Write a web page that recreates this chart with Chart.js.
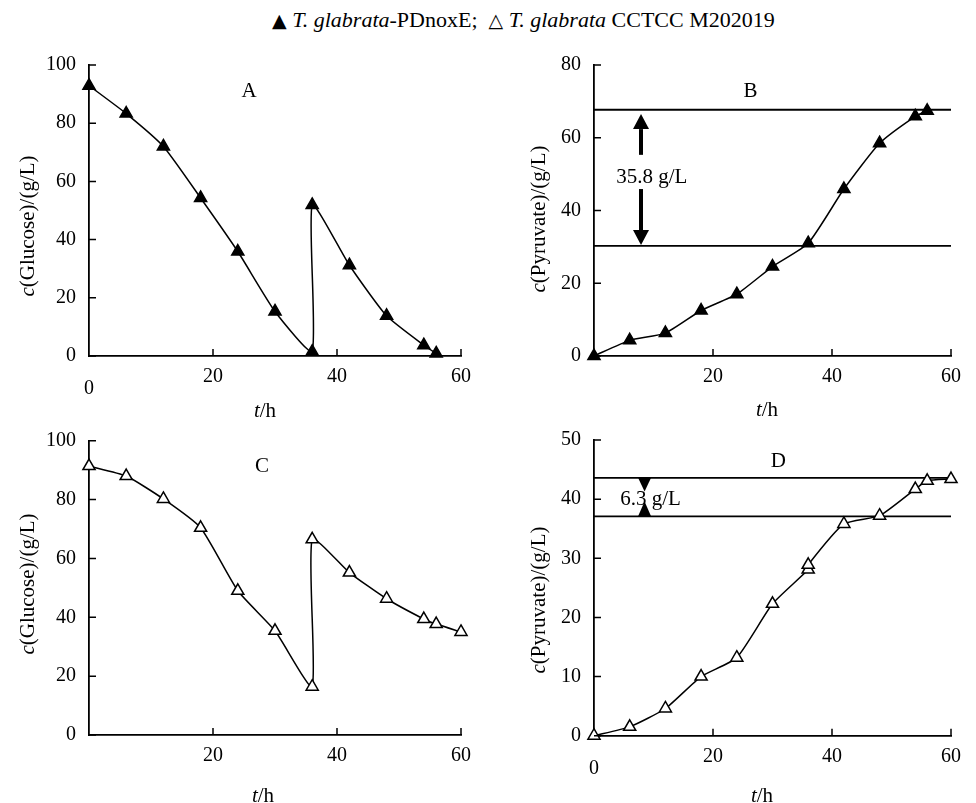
<!DOCTYPE html>
<html>
<head>
<meta charset="utf-8">
<script src="https://cdn.jsdelivr.net/npm/chart.js@4"></script>
<style>
  body { margin: 0; background: #fff; }
  #page { position: relative; width: 976px; height: 803px; font-family: "Liberation Serif", "Times New Roman", serif; color: #000; }
  .panel { position: absolute; }
  .txt { position: absolute; white-space: nowrap; font-size: 21px; line-height: 1; }
  .ytitle { transform: translate(-50%, -50%) rotate(-90deg); }
  .xtitle { transform: translate(-50%, -50%); }
  #legend { left: 272px; top: 20px; transform: translateY(-50%); font-size: 22px; }
  .sym { font-family: "DejaVu Sans", sans-serif; font-size: 19px; }
</style>
</head>
<body>
<div id="page">
  <div id="legend" class="txt"><span class="sym">▲</span> <i>T. glabrata</i>-PDnoxE;&nbsp; <span class="sym">△</span> <i>T. glabrata</i> CCTCC M202019</div>

  <div class="panel" style="left:0;top:40px;width:490px;height:360px"><canvas id="chartA" width="490" height="360"></canvas></div>
  <div class="panel" style="left:490px;top:40px;width:486px;height:360px"><canvas id="chartB" width="486" height="360"></canvas></div>
  <div class="panel" style="left:0;top:400px;width:490px;height:403px"><canvas id="chartC" width="490" height="403"></canvas></div>
  <div class="panel" style="left:490px;top:400px;width:486px;height:403px"><canvas id="chartD" width="486" height="403"></canvas></div>

  <div class="txt ytitle" style="left:27px;top:226px"><i>c</i>(Glucose)/(g/L)</div>
  <div class="txt ytitle" style="left:538px;top:219px"><i>c</i>(Pyruvate)/(g/L)</div>
  <div class="txt ytitle" style="left:27px;top:584px"><i>c</i>(Glucose)/(g/L)</div>
  <div class="txt ytitle" style="left:538px;top:600px"><i>c</i>(Pyruvate)/(g/L)</div>

  <div class="txt xtitle" style="left:265px;top:410px"><i>t</i>/h</div>
  <div class="txt xtitle" style="left:767px;top:409px"><i>t</i>/h</div>
  <div class="txt xtitle" style="left:263px;top:795px"><i>t</i>/h</div>
  <div class="txt xtitle" style="left:762px;top:795px"><i>t</i>/h</div>
</div>

<script>
// sampling times (h) and concentrations (g/L)
const hoursA    = [0, 6, 12, 18, 24, 30, 36, 36, 42, 48, 54, 56];
const glucoseA  = [92.9, 83.3, 72.0, 54.3, 35.9, 15.3, 1.5, 51.9, 31.2, 13.8, 3.7, 0.9];

const hoursB    = [0, 6, 12, 18, 24, 30, 36, 42, 48, 54, 56];
const pyruvateB = [0, 4.3, 6.3, 12.5, 17.0, 24.6, 31.0, 45.9, 58.5, 65.9, 67.4];

const hoursC    = [0, 6, 12, 18, 24, 30, 36, 36, 42, 48, 54, 56, 60];
const glucoseC  = [91.4, 88.0, 80.2, 70.4, 49.0, 35.4, 16.4, 66.5, 55.2, 46.3, 39.4, 37.7, 35.0];

const hoursD    = [0, 6, 12, 18, 24, 30, 36, 36, 42, 48, 54, 56, 60];
const pyruvateD = [0, 1.5, 4.6, 10.0, 13.2, 22.3, 28.1, 28.9, 35.8, 37.2, 41.7, 43.1, 43.4];

// horizontal reference levels (g/L)
const levelsB = [67.7, 30.3];
const levelsD = [43.6, 37.1];

// arrows as [t, tail, tip] in data units
const arrowsB = [[7.9, 55.3, 66.5], [7.9, 45.9, 30.5]];
const arrowsD = [[8.5, 43.6, 41.3], [8.5, 37.1, 39.6]];

// notes as [text, t, c]
const notesB = [['35.8 g/L', 9.7, 49.2]];
const notesD = [['6.3 g/L', 9.5, 39.9]];

const xTicks = [0, 20, 40, 60];

const serif = '"Liberation Serif", "Times New Roman", serif';

const panelDecor = {
  id: 'panelDecor',
  afterDraw(chart, args, opts) {
    const { ctx, chartArea: area, scales: { x, y } } = chart;
    ctx.save();
    ctx.strokeStyle = '#000';
    ctx.fillStyle = '#000';
    ctx.lineWidth = 1.5;

    // inward tick marks
    ctx.beginPath();
    y.ticks.forEach(t => {
      const py = y.getPixelForValue(t.value);
      ctx.moveTo(area.left, py);
      ctx.lineTo(area.left + 7, py);
    });
    x.ticks.forEach(t => {
      if (t.value === 0) return;
      const px = x.getPixelForValue(t.value);
      ctx.moveTo(px, area.bottom);
      ctx.lineTo(px, area.bottom - 7);
    });
    ctx.stroke();

    // arrows
    (opts.arrows || []).forEach(([t, tail, tip]) => {
      const px = x.getPixelForValue(t);
      const y0 = y.getPixelForValue(tail);
      const y1 = y.getPixelForValue(tip);
      const dir = Math.sign(y1 - y0);
      const head = Math.min(15, Math.abs(y1 - y0));
      const half = head < 15 ? 6.5 : 8;
      const base = y1 - dir * head;
      if (Math.abs(base - y0) > 0.5) {
        ctx.lineWidth = 4;
        ctx.beginPath();
        ctx.moveTo(px, y0);
        ctx.lineTo(px, base);
        ctx.stroke();
      }
      ctx.beginPath();
      ctx.moveTo(px, y1);
      ctx.lineTo(px - half, base);
      ctx.lineTo(px + half, base);
      ctx.closePath();
      ctx.fill();
    });

    ctx.font = '21px ' + serif;
    ctx.textAlign = 'center';
    ctx.textBaseline = 'middle';
    (opts.notes || []).forEach(([text, t, c]) => {
      ctx.fillText(text, x.getPixelForValue(t), y.getPixelForValue(c));
    });
    if (opts.letter) {
      ctx.fillText(opts.letter[0], x.getPixelForValue(opts.letter[1]), y.getPixelForValue(opts.letter[2]));
    }
    ctx.restore();
  }
};

function makePanel(id, cfg) {
  const datasets = [{
    data: cfg.hours.map((h, i) => ({ x: h, y: cfg.values[i] })),
    borderColor: '#000',
    borderWidth: 1.5,
    tension: 0.18,
    clip: false,
    pointStyle: 'triangle',
    pointRadius: 7,
    pointHoverRadius: 7,
    pointBorderWidth: 1.5,
    pointBorderColor: '#000',
    pointBackgroundColor: cfg.filled ? '#000' : '#fff',
    order: 0,
  }];
  (cfg.levels || []).forEach(v => {
    datasets.push({
      data: [{ x: 0, y: v }, { x: 60, y: v }],
      borderColor: '#000',
      borderWidth: 1.8,
      pointRadius: 0,
      tension: 0,
      clip: false,
      order: 1,
    });
  });

  new Chart(document.getElementById(id), {
    type: 'line',
    data: { datasets },
    options: {
      responsive: false,
      animation: false,
      events: [],
      layout: { padding: { top: cfg.top, right: cfg.right, left: 0, bottom: 0 } },
      plugins: {
        legend: { display: false },
        tooltip: { enabled: false },
        panelDecor: { arrows: cfg.arrows, notes: cfg.notes, letter: cfg.letter },
      },
      scales: {
        x: {
          type: 'linear',
          min: 0, max: 60,
          afterBuildTicks: s => { s.ticks = xTicks.map(v => ({ value: v })); },
          afterFit: s => { s.height = cfg.xHeight; },
          grid: { display: false, drawTicks: false },
          border: { display: true, color: '#000', width: 1.8 },
          ticks: {
            color: '#000',
            padding: 15,
            autoSkip: false,
            maxRotation: 0,
            font: { family: serif, size: 20, lineHeight: 0.6 },
            callback: v => v === 0 ? (cfg.showZero ? ['', '0'] : '') : String(v),
          },
        },
        y: {
          min: 0, max: cfg.yMax,
          ticks: {
            stepSize: cfg.yStep,
            color: '#000',
            padding: 13,
            font: { family: serif, size: 20 },
          },
          afterFit: s => { s.width = cfg.yWidth; },
          grid: { display: false, drawTicks: false },
          border: { display: true, color: '#000', width: 1.8 },
        },
      },
    },
    plugins: [panelDecor],
  });
}

makePanel('chartA', {
  hours: hoursA, values: glucoseA, filled: true,
  yMax: 100, yStep: 20, showZero: true,
  top: 21, right: 29, yWidth: 89, xHeight: 44,
  letter: ['A', 25.8, 90.8],
});
makePanel('chartB', {
  hours: hoursB, values: pyruvateB, filled: true,
  yMax: 80, yStep: 20, showZero: false,
  top: 21, right: 10.3, yWidth: 104, xHeight: 44,
  levels: levelsB, arrows: arrowsB, notes: notesB,
  letter: ['B', 26.3, 72.7],
});
makePanel('chartC', {
  hours: hoursC, values: glucoseC, filled: false,
  yMax: 100, yStep: 20, showZero: false,
  top: 40.7, right: 29, yWidth: 89, xHeight: 68,
  letter: ['C', 27.9, 91.1],
});
makePanel('chartD', {
  hours: hoursD, values: pyruvateD, filled: false,
  yMax: 50, yStep: 10, showZero: true,
  top: 40, right: 10.3, yWidth: 104, xHeight: 67.3,
  levels: levelsD, arrows: arrowsD, notes: notesD,
  letter: ['D', 31.0, 46.3],
});
</script>
</body>
</html>
